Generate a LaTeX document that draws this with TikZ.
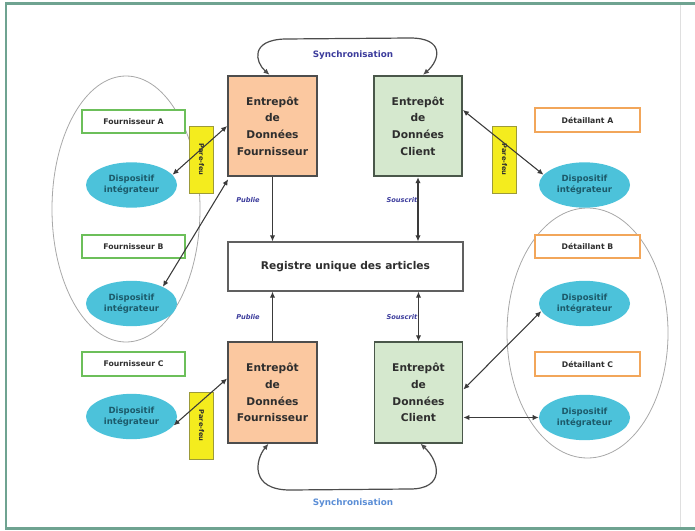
\documentclass[tikz,border=0pt]{standalone}
\usepackage{fontspec}
\setmainfont{DejaVu Sans}
\usetikzlibrary{shapes.geometric,arrows.meta,calc}

\definecolor{framecol}{HTML}{6FA391}
\definecolor{peach}{HTML}{FBC8A0}
\definecolor{clientfill}{HTML}{D5E8CE}
\definecolor{boxline}{HTML}{4D4D4D}
\definecolor{clientline}{HTML}{4A574A}
\definecolor{txt}{HTML}{2E2E2E}
\definecolor{greenline}{HTML}{6CBF5A}
\definecolor{orangeline}{HTML}{F2A65A}
\definecolor{cyanfill}{HTML}{4CC2DA}
\definecolor{devtext}{HTML}{1C5A6A}
\definecolor{yellowfill}{HTML}{F4EC1E}
\definecolor{yellowline}{HTML}{9C9A3A}
\definecolor{arrowcol}{HTML}{3A3A3A}
\definecolor{groupgray}{HTML}{A8A8A8}
\definecolor{tagblue}{HTML}{3C3C9C}
\definecolor{syncblue}{HTML}{5B8ED6}

\tikzset{
  wh/.style={draw=boxline, line width=1.3pt, text=txt, align=center, inner sep=0pt,
    font=\bfseries\fontsize{8}{12.5}\selectfont, minimum width=66.75pt, minimum height=75.5pt},
  suppbox/.style={wh, fill=peach},
  clientbox/.style={wh, fill=clientfill, draw=clientline, minimum width=66pt},
  registry/.style={draw=gray!75!black, line width=0.9pt, fill=white, text=txt, inner sep=0pt,
    minimum width=176.25pt, minimum height=36.75pt, font=\bfseries\fontsize{8}{10}\selectfont},
  actor/.style={line width=1.3pt, fill=white, text=txt, inner sep=0pt, minimum height=17.5pt,
    font=\bfseries\fontsize{5.8}{7}\selectfont},
  supplabel/.style={actor, draw=greenline, minimum width=77.25pt},
  retlabel/.style={actor, draw=orangeline, minimum width=78.75pt},
  device/.style={ellipse, fill=cyanfill, draw=none, minimum width=68.25pt, minimum height=34pt,
    inner sep=0pt, align=center, text=devtext, font=\bfseries\fontsize{6.4}{8}\selectfont},
  firewall/.style={draw=yellowline, fill=yellowfill, line width=0.6pt, rotate=-90, inner sep=0pt,
    minimum width=50.25pt, minimum height=17.5pt, text=txt, font=\bfseries\fontsize{5}{5.5}\selectfont},
  group/.style={ellipse, draw=groupgray, line width=0.6pt, inner sep=0pt},
  flow/.style={draw=arrowcol, line width=0.8pt, -{Latex[length=4.5pt,width=4pt]}},
  twoway/.style={draw=arrowcol, line width=0.8pt, {Latex[length=4.5pt,width=4pt]}-{Latex[length=4.5pt,width=4pt]}},
  sync/.style={draw=gray!60!black, line width=0.9pt, {Latex[length=4.5pt,width=4pt]}-{Latex[length=4.5pt,width=4pt]}},
  tag/.style={text=tagblue, font=\bfseries\itshape\fontsize{5}{6}\selectfont},
  synctag/.style={font=\bfseries\fontsize{6.6}{8}\selectfont},
}

\begin{document}
\begin{tikzpicture}[x=0.75pt,y=-0.75pt]
\useasboundingbox (0,0) rectangle (695,531);

% outer frame
\draw[gray!25, line width=1.2pt] (680.5,4) -- (680.5,528);
\draw[framecol, line width=1.6pt] (695,3.5) -- (6,3.5) -- (6,528.5) -- (695,528.5);

% groups of suppliers and retailers
\node[group, minimum width=111pt, minimum height=199.5pt] (grpS) at (126,209) {};
\node[group, minimum width=120.75pt, minimum height=187.5pt] (grpR) at (587.5,333) {};

% data warehouses and the central registry
\node[suppbox]   (sT) at (272.5,126)   {Entrepôt\\de\\Données\\Fournisseur};
\node[clientbox] (cT) at (418,126)     {Entrepôt\\de\\Données\\Client};
\node[suppbox]   (sB) at (272.5,392.5) {Entrepôt\\de\\Données\\Fournisseur};
\node[clientbox] (cB) at (418.5,392.5) {Entrepôt\\de\\Données\\Client};
\node[registry]  (reg) at (345.5,266.5) {Registre unique des articles};

% suppliers
\node[supplabel] (fA) at (133.5,121.5) {Fournisseur A};
\node[supplabel] (fB) at (133.5,246.5) {Fournisseur B};
\node[supplabel] (fC) at (133.5,364)   {Fournisseur C};
\node[device] (dA) at (131.5,185)   {Dispositif\\intégrateur};
\node[device] (dB) at (131.5,303.5) {Dispositif\\intégrateur};
\node[device] (dC) at (131.5,416.5) {Dispositif\\intégrateur};

% retailers
\node[retlabel] (rA) at (587.5,120)   {Détaillant A};
\node[retlabel] (rB) at (587.5,246.5) {Détaillant B};
\node[retlabel] (rC) at (587.5,364)   {Détaillant C};
\node[device] (eA) at (584.5,185)   {Dispositif\\intégrateur};
\node[device] (eB) at (584.5,303.5) {Dispositif\\intégrateur};
\node[device] (eC) at (584.5,417.5) {Dispositif\\intégrateur};

% firewalls
\node[firewall] (fw1) at (201.5,159.5) {Pare-feu};
\node[firewall] (fw2) at (201.5,425.5) {Pare-feu};
\node[firewall] (fw3) at (504.5,159.5) {Pare-feu};

% publish / subscribe
\draw[flow]   (sT.south) -- (sT.south |- reg.north);
\draw[twoway] (cT.south) -- (cT.south |- reg.north);
\draw[flow]   (sB.north) -- (sB.north |- reg.south);
\draw[twoway] (cB.north) -- (cB.north |- reg.south);
\node[tag] (p1) at (248,200) {Publie};
\node[tag] (p2) at (248,317) {Publie};
\node[tag] (s1) at (402,200) {Souscrit};
\node[tag] (s2) at (402,317) {Souscrit};

% device links
\draw[twoway] (sT.west) -- (dA.14);
\draw[twoway] ($(sT.south west)+(1,2)$) -- (dB.28);
\draw[twoway] ($(sB.west)+(0,-14)$) -- (dC.-12);
\draw[twoway] ($(cT.east)+(0,-16)$) -- (eA.166);
\draw[twoway] ($(cB.east)+(0,-3)$) -- (eB.190);
\draw[twoway] ($(cB.east)+(0,25)$) -- (eC.west);

% synchronisation loops
\draw[sync] ($(sT.north)+(-3,0)$) .. controls (255,62) and (250,40) .. (285,39)
  -- (410,38) .. controls (445,38) and (440,60) .. ($(cT.north)+(5,0)$);
\node[synctag, text=tagblue] (syT) at (353,55) {Synchronisation};
\draw[sync] ($(sB.south)+(-4,0)$) .. controls (255,460) and (250,490) .. (290,490)
  -- (410,489) .. controls (445,489) and (440,462) .. ($(cB.south)+(2,0)$);
\node[synctag, text=syncblue] (syB) at (353,503) {Synchronisation};
\end{tikzpicture}
\end{document}
